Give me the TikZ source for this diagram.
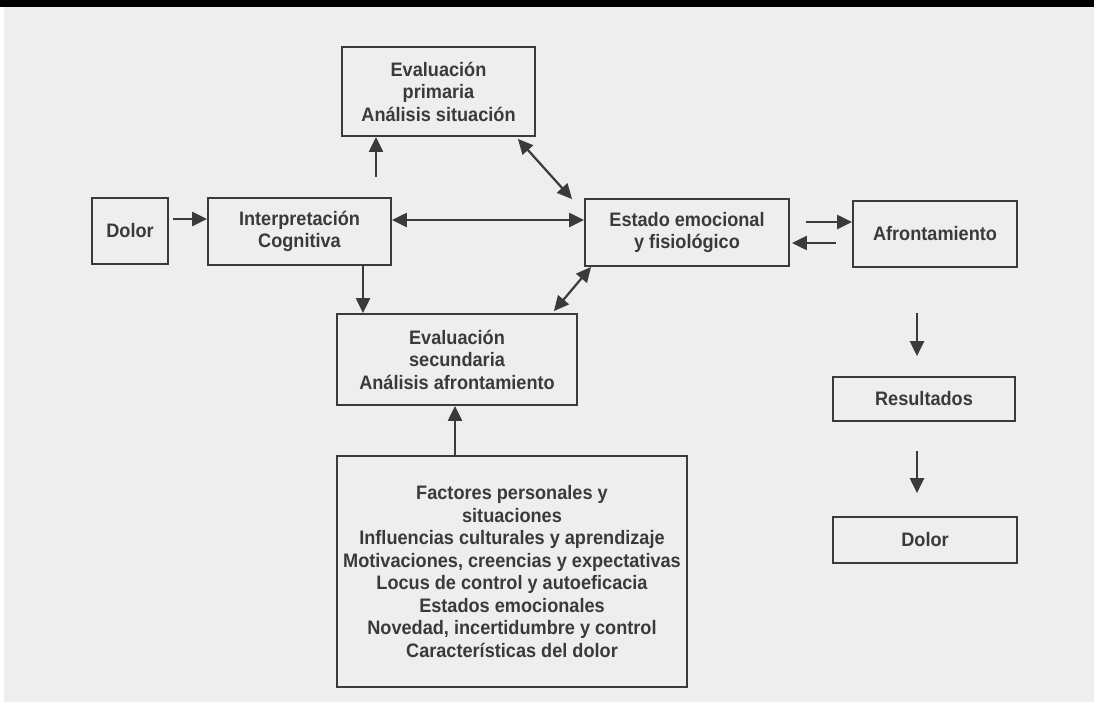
\documentclass[tikz,border=0pt]{standalone}
\usepackage{fontspec}
\setmainfont{Liberation Sans}
\newfontfamily\labelfont{Liberation Sans}[FakeStretch=0.93]
\usetikzlibrary{arrows.meta,calc}
\definecolor{ink}{HTML}{3A3A3A}
\definecolor{paper}{HTML}{EEEEEE}
\begin{document}
\begin{tikzpicture}[x=1pt,y=-1pt,
  box/.style={draw=ink, line width=1.8pt, text=ink,
    font=\labelfont\bfseries\fontsize{19.5}{22.5}\selectfont, align=center, inner sep=0pt},
  arr/.style={draw=ink, line width=2.2pt, -{Triangle[length=15pt,width=14pt]}},
  biarr/.style={draw=ink, line width=2.2pt,
    {Triangle[length=15pt,width=14pt]}-{Triangle[length=15pt,width=14pt]}}]
\useasboundingbox (0,0) rectangle (1094,702);
% page
\fill[paper] (4,0) rectangle (1094,702);
\fill[black] (0,0) rectangle (1094,7);

% boxes
\node[box, minimum width=76pt,  minimum height=66pt]  (dolorA)   at (130,231)     {Dolor};
\node[box, minimum width=183pt, minimum height=67pt]  (interp)   at (299.5,231.5) {Interpretación\\Cognitiva};
\node[box, minimum width=193pt, minimum height=89pt]  (evp)      at (438.5,91.5)  {Evaluación\\primaria\\Análisis situación};
\node[box, minimum width=204pt, minimum height=67pt]  (estado)   at (687,232.5)   {Estado emocional\\y fisiológico};
\node[box, minimum width=164pt, minimum height=66pt]  (afront)   at (935,234)     {Afrontamiento};
\node[box, minimum width=240pt, minimum height=91pt]  (evs)      at (457,359.5)   {Evaluación\\secundaria\\Análisis afrontamiento};
\node[box, minimum width=350pt, minimum height=231pt] (factores) at (512,571.5)
  {Factores personales y\\situaciones\\Influencias culturales y aprendizaje\\Motivaciones, creencias y expectativas\\Locus de control y autoeficacia\\Estados emocionales\\Novedad, incertidumbre y control\\Características del dolor};
\node[box, minimum width=182pt, minimum height=44pt]  (result)   at (924,399)     {Resultados};
\node[box, minimum width=184pt, minimum height=46pt]  (dolorB)   at (925,540)     {Dolor};

% connectors
\draw[arr]   ($(dolorA.east)+(4,-12)$)    -- ($(interp.west)+(0,-12.5)$);
\draw[biarr] ($(interp.east)+(0,-11.5)$)  -- ($(estado.west)+(0,-12.5)$);
\draw[arr]   ($(interp.north)+(76.5,-20)$) -- ($(evp.south)+(-62.5,0)$);
\draw[arr]   ($(interp.south)+(63.5,0)$)  -- ($(evs.north)+(-94,0)$);
\draw[biarr] ($(evp.south east)+(-18,2)$) -- ($(estado.north west)+(-12,1)$);
\draw[biarr] ($(evs.north east)+(-24,-2)$) -- ($(estado.south west)+(7,0)$);
\draw[arr]   ($(estado.east)+(16,-10.5)$) -- ($(afront.west)+(0,-12)$);
\draw[arr]   ($(afront.west)+(-16,9)$)    -- ($(estado.east)+(2,10.5)$);
\draw[arr]   ($(afront.south)+(-18,45)$)  -- ($(result.north)+(-7,-20)$);
\draw[arr]   ($(result.south)+(-7,29)$)   -- ($(dolorB.north)+(-8,-23)$);
\draw[arr]   ($(factores.north)+(-57,0)$) -- ($(evs.south)+(-2,0)$);
\end{tikzpicture}
\end{document}
